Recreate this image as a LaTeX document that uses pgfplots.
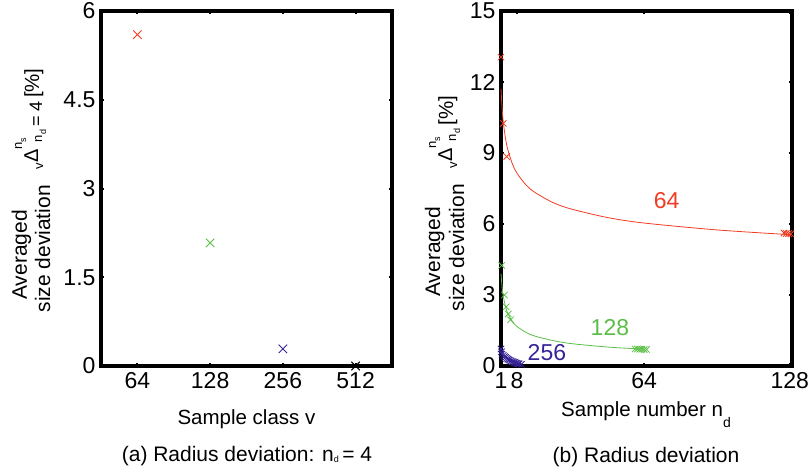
\documentclass[border=0pt]{standalone}
\usepackage{fontspec}
\setmainfont{Liberation Sans}
\usepackage{pgfplots}
\pgfplotsset{compat=1.18}
\definecolor{cred}{RGB}{240,60,35}
\definecolor{cgreen}{RGB}{90,190,70}
\definecolor{cblue}{RGB}{55,35,150}
\newcommand{\fs}[1]{\fontsize{#1}{#1}\selectfont}
% Delta expression of the y labels
\newcommand{\dpart}[1]{%
  \hspace{16pt}%
  \raisebox{7pt}{\fs{13}v}%
  \raisebox{12pt}{\fs{20}Δ}%
  \raisebox{28pt}{\fs{13}n}%
  \rlap{\raisebox{24pt}{\fs{9}s}}%
  \raisebox{8pt}{\fs{13}n\raisebox{-4pt}{\fs{9}d}}%
  #1%
  \raisebox{11pt}{\fs{20.5}\,[\%]}}

\begin{document}
\begin{tikzpicture}[x=1pt,y=1pt]
\useasboundingbox (0,0) rectangle (811,474);
\pgfplotsset{panel/.style={
    scale only axis, width=291pt, height=355pt,
    axis line style={line width=3.3pt},
    major tick length=3pt,
    every tick/.style={black, line width=2pt},
    tick label style={font=\fs{23}},
    xticklabel style={yshift=-3pt},
    yticklabel style={xshift=-2pt},
    /pgf/number format/assume math mode=true,
    clip=false}}

\begin{axis}[panel, at={(101pt,108pt)}, anchor=south west,
    xmin=0.5, xmax=4.5, xtick={1,2,3,4}, xticklabels={64,128,256,512},
    ymin=0, ymax=6, ytick={0,1.5,3,4.5,6}]
  \addplot[only marks, mark=x, mark size=6pt, cred, line width=0.9pt] coordinates {(1,5.6)};
  \addplot[only marks, mark=x, mark size=6pt, cgreen, line width=0.9pt] coordinates {(2,2.08)};
  \addplot[only marks, mark=x, mark size=6pt, cblue, line width=0.9pt] coordinates {(3,0.29)};
  \addplot[only marks, mark=x, mark size=6pt, black, line width=0.9pt] coordinates {(4,0)};
\end{axis}

\begin{axis}[panel, at={(501pt,108pt)}, anchor=south west,
    xmin=1, xmax=129, xtick={1,8,64,128},
    ymin=0, ymax=15, ytick={0,3,6,9,12,15}]
  % fitted curves
  \addplot[cred, line width=0.8pt, smooth] coordinates {(1,11.70)(1.5,10.86)(2,10.31)(3,9.60)(4,9.14)(6,8.54)(8,8.15)(12,7.65)(16,7.33)(24,6.90)(32,6.63)(48,6.27)(64,6.04)(96,5.75)(128,5.55)};
  \addplot[cgreen, line width=0.8pt, smooth] coordinates {(1,3.90)(1.5,3.31)(2,2.95)(3,2.50)(4,2.22)(6,1.88)(8,1.67)(12,1.42)(16,1.26)(24,1.07)(32,0.945)(48,0.80)(62,0.72)};
  \addplot[cblue, line width=0.8pt, smooth] coordinates {(1,0.62)(2,0.45)(3,0.36)(4,0.29)(6,0.20)(8,0.14)(10,0.10)};
  % samples
  \addplot[only marks, mark=x, mark size=4.5pt, cred, line width=0.8pt] coordinates {(1,13.05)(2,10.25)(3.5,8.85)(125.5,5.62)(126.5,5.60)(127.5,5.59)(128.5,5.58)};
  \addplot[only marks, mark=x, mark size=4.5pt, cgreen, line width=0.8pt] coordinates {(1.3,4.25)(2.5,3.00)(3.3,2.50)(4.2,2.20)(5.2,1.95)(60,0.72)(61,0.72)(62,0.71)(63,0.71)(64,0.70)(65,0.70)};
  \addplot[only marks, mark=x, mark size=4.5pt, cblue, line width=0.8pt] coordinates {(1,0.72)(1.2,0.60)(1.4,0.50)(2,0.45)(2.5,0.40)(3,0.36)(3.5,0.32)(4,0.29)(4.5,0.26)(5,0.24)(5.5,0.21)(6,0.19)(6.5,0.17)(7,0.15)(7.5,0.13)(8,0.12)(8.5,0.10)(9,0.09)(10,0.07)};
  \node[cred, font=\fs{23}] at (axis cs:73.9,7.01) {64};
  \node[cgreen, font=\fs{23}] at (axis cs:48.9,1.61) {128};
  \node[cblue, font=\fs{23}] at (axis cs:21.2,0.55) {256};
\end{axis}

% axis labels
\node[rotate=90, anchor=base, font=\fs{21}] at (27,219) {Averaged};
\node[rotate=90, anchor=base west, font=\fs{21}] at (50,158) {size deviation\dpart{\raisebox{8pt}{\fs{18}\,= 4}}};
\node[rotate=90, anchor=base, font=\fs{21}] at (440,222) {Averaged};
\node[rotate=90, anchor=base west, font=\fs{21}] at (464,159) {size deviation\dpart{}};
\node[anchor=base, font=\fs{20.5}] at (246.5,50) {Sample class v};
\node[anchor=base, font=\fs{20.5}] at (646,57) {Sample number n\raisebox{-10pt}{\fs{14}d}};
% captions
\node[anchor=base, font=\fs{21}] at (247,13) {(a) Radius deviation: n\raisebox{-1pt}{\fs{9}d}\,= 4};
\node[anchor=base, font=\fs{21}] at (646,12) {(b) Radius deviation};
\end{tikzpicture}
\end{document}
